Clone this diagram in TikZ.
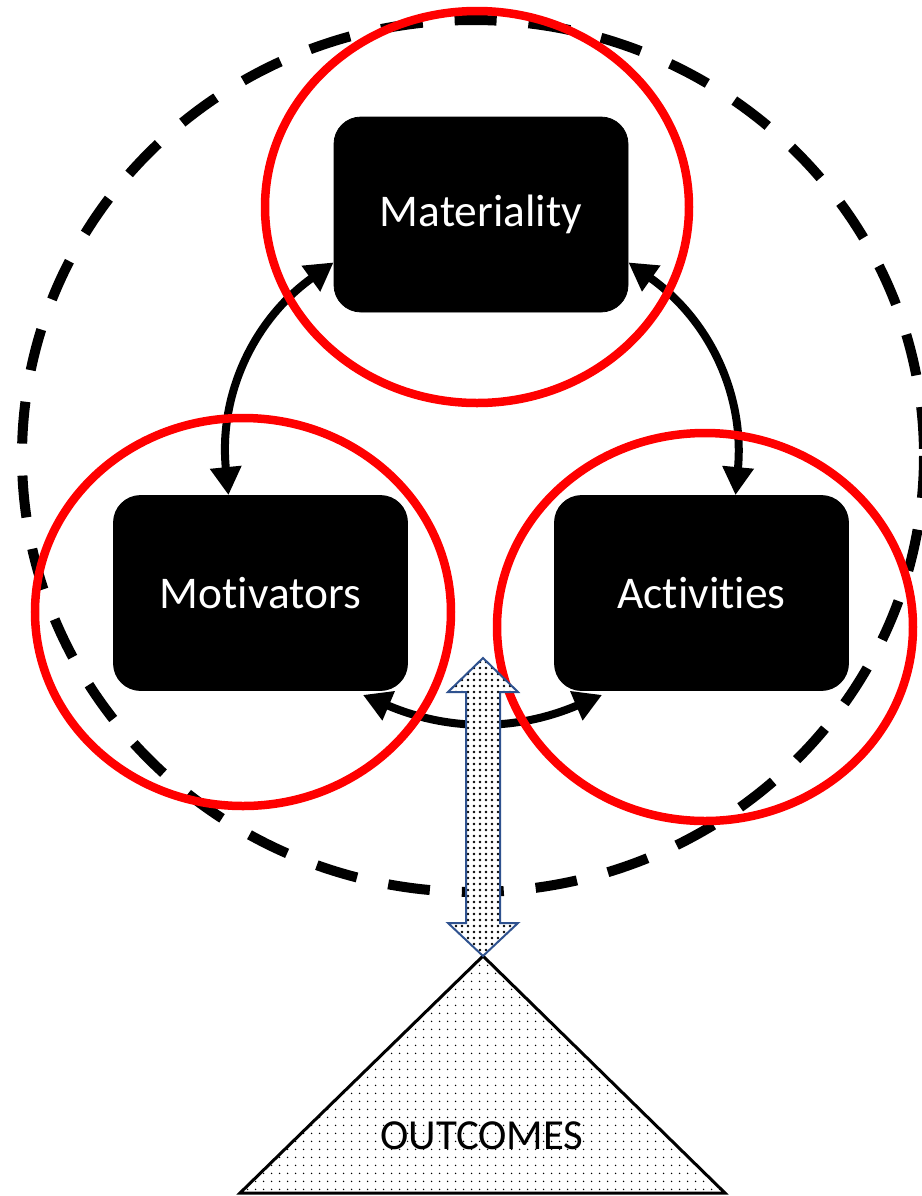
\documentclass[tikz,border=0pt]{standalone}
\usepackage{fontspec}
\setmainfont{Carlito}[Ligatures={NoCommon}]
\usepackage{tikz}
\usetikzlibrary{arrows.meta,positioning,patterns.meta}
\definecolor{arrowblue}{HTML}{2F528F}

\begin{document}
\begin{tikzpicture}[x=0.5pt, y=-0.5pt]
        \tikzstyle{box} = [rectangle, fill = black, draw = black, rounded corners = 13.5pt, text = white, align = center, font = \fontsize{22.7}{27}\selectfont, minimum width = 147pt, minimum height = 97.5pt, inner sep = 0pt]
        \tikzstyle{link} = [line width = 4pt, {Triangle[length=14pt, width=15pt]}-{Triangle[length=14pt, width=15pt]}]
        \tikzstyle{ring} = [draw = red, line width = 4.25pt]
        \tikzstyle{bridge} = [draw = arrowblue, line width = 1pt, preaction = {fill = white}, pattern = {Dots[distance=3pt, radius=0.7pt]}]
        \tikzstyle{outcome} = [draw = black, line width = 1.5pt, preaction = {fill = white}, pattern = {Dots[distance=4pt, radius=0.45pt]}]
        \useasboundingbox (0,0) rectangle (922,1196);
        \draw [line width = 5pt, dash pattern = on 21pt off 16pt] (473,456) ellipse [x radius = 451, y radius = 436];
        \node at (481,214.5) (materiality) [box] {Materiality};
        \node at (260.5,593) (motivators) [box] {Motivators};
        \node at (701.5,593) (activities) [box] {Activities};
        \draw [link] (materiality.south west) ++(0,-50) to[bend right=30] ([xshift=-16pt]motivators.north);
        \draw [link] (materiality.south east) ++(0,-50) to[bend left=30] ([xshift=17pt]activities.north);
        \draw [link] (motivators.south east) ++(-45,4) to[bend right=23] ([xshift=24pt, yshift=-2pt]activities.south west);
        \draw [ring] (477,207) ellipse [x radius = 212, y radius = 196];
        \draw [ring] (243,612) ellipse [x radius = 208, y radius = 194];
        \draw [ring] (705,627) ellipse [x radius = 208, y radius = 194];
        \coordinate (apex) at (483,956);
        \draw [outcome] (apex) -- (725,1193) -- (240,1193) -- cycle;
        \node at (482,1136) (outcomes) [font = \fontsize{21.4}{25}\selectfont] {OUTCOMES};
        \draw [bridge] (apex) -- ++(35,-33) -- ++(-18,0) -- ++(0,-231) -- ++(18,0) -- ++(-35,-34) -- ++(-35,34) -- ++(18,0) -- ++(0,231) -- ++(-18,0) -- cycle;
    \end{tikzpicture}
\end{document}
